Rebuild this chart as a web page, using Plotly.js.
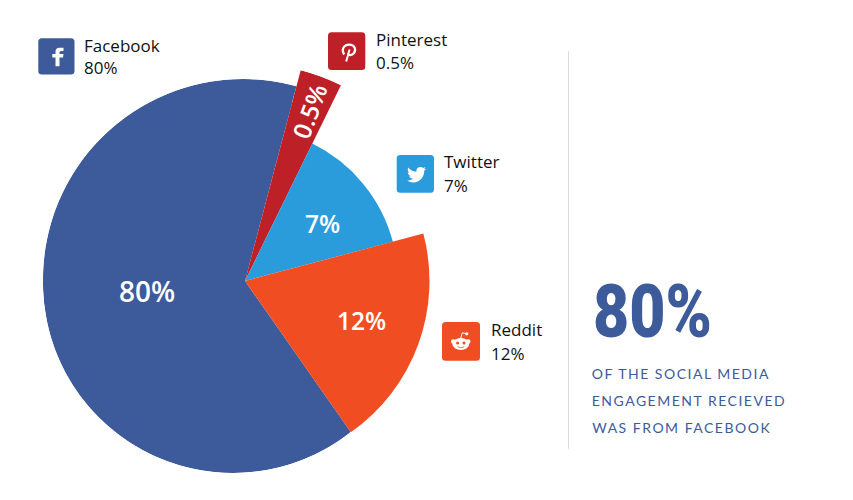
<!DOCTYPE html>
<html>
<head>
<meta charset="utf-8">
<script src="https://cdn.plot.ly/plotly-3.0.1.min.js"></script>
<style>
html,body{margin:0;padding:0;background:#fff}
#chart{width:853px;height:500px}
.annotation[data-index="12"] text,.annotation[data-index="13"] text,.annotation[data-index="14"] text{letter-spacing:1.5px}
.annotation[data-index="15"] text{transform-box:fill-box;transform-origin:center;transform:scaleX(.845)}
</style>
</head>
<body>
<div id="chart"></div>
<script>
// Chart content
const platforms = ['Facebook', 'Pinterest', 'Twitter', 'Reddit'];
const shares = ['80%', '0.5%', '7%', '12%'];
const colors = ['#3d5a9b', '#bd2026', '#2a9cdb', '#f14d22'];
// Wedges (degrees clockwise from north, radius in px)
const sliceStart = [145, 14.8, 26.1, 75.1];
const sliceEnd = [374.8, 26.1, 75.1, 145];
const sliceRadius = [184, 218, 153, 184.5];
// The blue slice's outer edge is two slightly different arcs
const blueArcStart = [142, 265];
const blueArcEnd = [275, 375.5];
const blueArcRadius = [190, 200];
const headline = '80%';
const captionLines = ['OF THE SOCIAL MEDIA', 'ENGAGEMENT RECIEVED', 'WAS FROM FACEBOOK'];

const W = 853, H = 500;
function domainOf(cx, cy, R) {
  return {x: [(cx - R) / W, (cx + R) / W], y: [1 - (cy + R) / H, 1 - (cy - R) / H]};
}
function polarAxis(cx, cy, R) {
  return {
    domain: domainOf(cx, cy, R),
    bgcolor: 'rgba(0,0,0,0)',
    radialaxis: {visible: false, range: [0, R]},
    angularaxis: {visible: false, direction: 'clockwise', rotation: 90}
  };
}
function wedge(sub, start, end, r, color) {
  return {
    type: 'barpolar', subplot: sub,
    theta: [(start + end) / 2], width: [end - start], r: [r],
    marker: {color: color, line: {width: 0}},
    hoverinfo: 'skip', showlegend: false
  };
}

const data = [
  wedge('polar', blueArcStart[0], blueArcEnd[0], blueArcRadius[0], colors[0]),
  wedge('polar2', blueArcStart[1], blueArcEnd[1], blueArcRadius[1], colors[0]),
  ...platforms.map((p, i) => wedge('polar3', sliceStart[i], sliceEnd[i], sliceRadius[i], colors[i])),
  {type: 'scatter', x: [0], y: [0], mode: 'markers', marker: {opacity: 0}, hoverinfo: 'skip', showlegend: false}
];

// Icons
const boxes = [[38.3, 38.3, 74.5, 74.5], [328, 32.3, 365.3, 70], [396.7, 155, 434, 192.7], [442, 322, 480, 360.7]];
function rounded(b, color) {
  const [a, c, d, e] = b, r = 3.5;
  return {type: 'path', xref: 'x', yref: 'y', fillcolor: color, line: {width: 0},
    path: `M${a + r} ${c} H${d - r} Q${d} ${c} ${d} ${c + r} V${e - r} Q${d} ${e} ${d - r} ${e} H${a + r} Q${a} ${e} ${a} ${e - r} V${c + r} Q${a} ${c} ${a + r} ${c} Z`};
}
function glyph(path, fill) {
  return {type: 'path', xref: 'x', yref: 'y', path, fillcolor: fill, line: {width: 0}};
}
function stroke(path, width, color) {
  return {type: 'path', xref: 'x', yref: 'y', path, line: {width, color}, fillcolor: 'rgba(0,0,0,0)'};
}
function dot(cx, cy, rx, ry, fill) {
  return {type: 'circle', xref: 'x', yref: 'y', x0: cx - rx, x1: cx + rx, y0: cy - ry, y1: cy + ry, fillcolor: fill, line: {width: 0}};
}
const shapes = [
  {type: 'line', xref: 'x', yref: 'y', x0: 568.5, x1: 568.5, y0: 51, y1: 449, line: {color: '#dcdcdc', width: 1}},
  ...boxes.map((b, i) => rounded(b, colors[i])),
  glyph('M55.5 66.3 V57.5 H52.3 V54 H55.5 V51.5 Q55.5 47.7 59.5 47.7 H63.5 V51 H61 Q59.5 51 59.5 52.5 V54 H63.5 L63 57.5 H59.5 V66.3 Z', '#ffffff'),
  stroke('M344.2 54.5 C341 50 343.5 44.6 349.2 44.6 C355 44.6 356.3 50 354 53 C352 55.8 348.3 55.6 347.8 53.6', 2.2, '#ffffff'),
  stroke('M349.6 49.5 L346.2 61.5', 2, '#ffffff'),
  glyph('M426.2 168.7 L424 169.3 L425.6 167.1 L423.1 168.1 C421.5 166.3 418 166.6 416.8 169 C416.3 170 416.3 170.8 416.4 171.7 C412.9 171.5 410 169.9 408.3 167.5 C407.3 169.4 407.8 171.4 409.5 172.8 L407.8 172.3 C407.8 174.2 409 175.7 411 176.2 L409.2 176.3 C409.8 177.8 411.1 178.7 412.9 178.8 C411.3 180.1 409.2 180.7 407 180.6 C409 181.9 411.2 182.4 413 182.4 C420.3 182.4 424.2 176.4 424.2 171.2 L424.2 170.7 Z', '#ffffff'),
  dot(453.3, 341.5, 2.3, 2.3, '#ffffff'),
  dot(468.2, 341.5, 2.3, 2.3, '#ffffff'),
  dot(460.8, 344, 8.4, 6, '#ffffff'),
  stroke('M460.8 338 L462.3 332.8 L466 333.6', 1, '#ffffff'),
  dot(466.8, 333.8, 1.6, 1.6, '#ffffff'),
  dot(457.6, 343, 1.5, 1.5, colors[3]),
  dot(464, 343, 1.5, 1.5, colors[3]),
  stroke('M457.6 346.8 Q460.8 348.6 464 346.8', 0.8, colors[3])
];

function note(text, x, y, size, color, extra) {
  return Object.assign({
    text, x, y, xref: 'x', yref: 'y', showarrow: false, xanchor: 'left', yanchor: 'middle',
    borderpad: 0, borderwidth: 0,
    font: {family: '"Open Sans", sans-serif', size, color}
  }, extra || {});
}
const labelPos = [[84, 45, 67], [376, 39.5, 62.5], [444, 161.5, 185], [490.5, 329.5, 353]];
const insidePos = [[146.5, 290.5, 28, 0], [309, 111, 24.5, -70], [322.5, 223.5, 24.5, 0], [361, 320.5, 24.5, 0]];
const annotations = [];
platforms.forEach((p, i) => {
  annotations.push(note(p, labelPos[i][0], labelPos[i][1], 17, '#111111'));
  annotations.push(note(shares[i], labelPos[i][0], labelPos[i][2], 17, '#111111'));
  annotations.push(note(shares[i], insidePos[i][0], insidePos[i][1], insidePos[i][2], '#ffffff',
    {xanchor: 'center', textangle: insidePos[i][3], font: {family: '"Open Sans", sans-serif', size: insidePos[i][2], color: '#ffffff', weight: 600}}));
});
const captionSpacing = 1.5;
captionLines.forEach((t, i) => {
  annotations.push(note(t, 592 + t.length * captionSpacing / 2, 373 + i * 27, 14, '#3d5a9b',
    {font: {family: 'Lato, sans-serif', size: 14, color: '#3d5a9b'}}));
});
annotations.push(note(headline, 652.5, 311, 74, '#3d5a9b',
  {xanchor: 'center', font: {family: 'Roboto, sans-serif', size: 74, color: '#3d5a9b', weight: 900}}));

const layout = {
  width: W, height: H, autosize: false,
  margin: {l: 0, r: 0, t: 0, b: 0, pad: 0},
  paper_bgcolor: '#ffffff', plot_bgcolor: 'rgba(0,0,0,0)',
  showlegend: false,
  xaxis: {visible: false, range: [0, W], domain: [0, 1], fixedrange: true},
  yaxis: {visible: false, range: [H, 0], domain: [0, 1], fixedrange: true},
  polar: polarAxis(233, 283, 190),
  polar2: polarAxis(243, 279, 200),
  polar3: polarAxis(245, 281, 218),
  shapes, annotations
};
Plotly.newPlot('chart', data, layout, {displayModeBar: false, staticPlot: true});
</script>
</body>
</html>
